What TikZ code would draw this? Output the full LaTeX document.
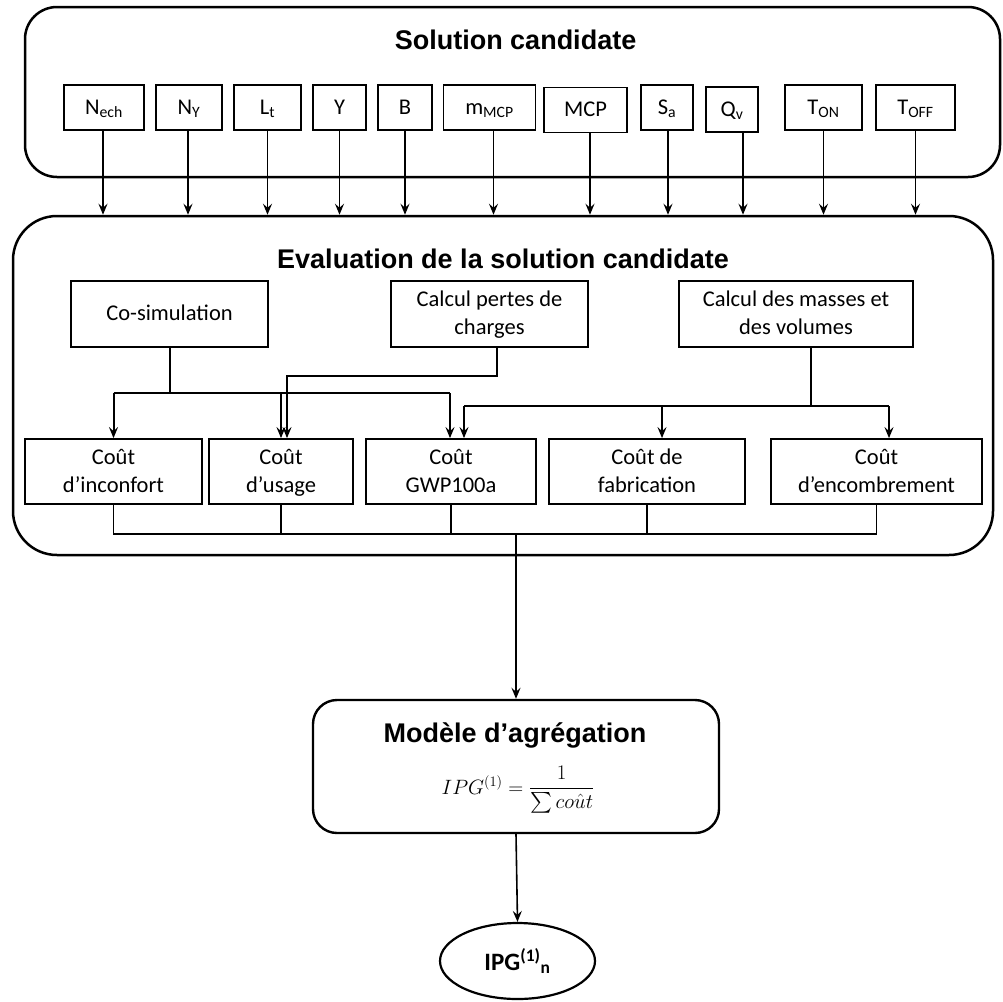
\documentclass[tikz,border=0pt]{standalone}
\usepackage{fontspec}
\usepackage{amsmath}
\setmainfont{Carlito}
\newfontfamily\titlefont{Liberation Sans}
\usetikzlibrary{arrows.meta,shapes.geometric,calc}
\newcommand\mystrut{\rule[-5pt]{0pt}{23pt}}
\tikzset{
  bigbox/.style={draw, line width=2.5pt, inner sep=0pt},
  pbox/.style={draw, line width=1.8pt, inner sep=0pt, minimum height=45pt,
    font=\fontsize{22.5}{27}\selectfont, execute at begin node=\mystrut},
  cbox/.style={draw, line width=1.8pt, inner sep=0pt, align=center,
    font=\fontsize{22.5}{28}\selectfont},
  ttl/.style={anchor=base, font=\titlefont\bfseries\fontsize{27}{32}\selectfont},
  tip/.style={-{Stealth[length=11pt,width=9pt,inset=4pt]}},
  arrtop/.style={tip, line width=1.6pt},
  arrmid/.style={tip, line width=2pt},
  lnmid/.style={line width=2pt},
  lnthin/.style={line width=1.2pt},
  arrbig/.style={tip, line width=2.6pt},
  arrlow/.style={tip, line width=1.6pt},
}
\begin{document}
\begin{tikzpicture}[x=1pt,y=-1pt]
\useasboundingbox (0,0) rectangle (1003,1001);

% Solution candidate box
\node[bigbox, rounded corners=32pt, minimum width=975pt, minimum height=170pt] (sol) at (512.5,92) {};
\node[ttl] (soltitle) at (515.5,49) {Solution candidate};

\node[pbox, minimum width=80pt] (nech) at (104,107.5) {N\textsubscript{ech}};
\node[pbox, minimum width=66pt] (ny) at (189,107.5) {N\textsubscript{Y}};
\node[pbox, minimum width=67pt] (lt) at (267.5,107.5) {L\textsubscript{t}};
\node[pbox, minimum width=53pt] (yy) at (339.5,107.5) {Y};
\node[pbox, minimum width=54pt] (bb) at (405,107.5) {B};
\node[pbox, minimum width=92pt] (mmcp) at (489.5,107.5) {m\textsubscript{MCP}};
\node[pbox, minimum width=83pt] (mcp) at (585.5,110) {MCP};
\node[pbox, minimum width=52pt] (sa) at (667,107.5) {S\textsubscript{a}};
\node[pbox, minimum width=52pt] (qv) at (732,109.5) {Q\textsubscript{v}};
\node[pbox, minimum width=77pt] (ton) at (823.5,107.5) {T\textsubscript{ON}};
\node[pbox, minimum width=79pt] (toff) at (915.5,107.5) {T\textsubscript{OFF}};

% Evaluation box
\node[bigbox, rounded corners=44pt, minimum width=980pt, minimum height=339pt] (eval) at (503,385.5) {};
\node[ttl] (evaltitle) at (503,268) {Evaluation de la solution candidate};

% top arrows
\draw[arrtop] ([xshift=-1pt]nech.south) -- ([xshift=-1pt]nech.south |- eval.north);
\draw[arrtop] ([xshift=-1pt]ny.south) -- ([xshift=-1pt]ny.south |- eval.north);
\draw[arrtop] (lt.south) -- (lt.south |- eval.north);
\draw[arrtop] (yy.south) -- (yy.south |- eval.north);
\draw[arrtop] (bb.south) -- (bb.south |- eval.north);
\draw[arrtop] ([xshift=4pt]mmcp.south) -- ([xshift=4pt]mmcp.south |- eval.north);
\draw[arrtop] ([xshift=4.5pt]mcp.south) -- ([xshift=4.5pt]mcp.south |- eval.north);
\draw[arrtop] ([xshift=1pt]sa.south) -- ([xshift=1pt]sa.south |- eval.north);
\draw[arrtop] ([xshift=11pt]qv.south) -- ([xshift=11pt]qv.south |- eval.north);
\draw[arrtop] (ton.south) -- (ton.south |- eval.north);
\draw[arrtop] (toff.south) -- (toff.south |- eval.north);

% row 1
\node[cbox, minimum width=197pt, minimum height=66pt] (cosim) at (169.5,314) {\mystrut Co-simulation};
\node[cbox, minimum width=197pt, minimum height=66pt] (pertes) at (489.5,314) {\mystrut Calcul pertes de\\\mystrut charges};
\node[cbox, minimum width=234pt, minimum height=66pt] (masses) at (796,314) {\mystrut Calcul des masses et\\\mystrut des volumes};

% row 2
\node[cbox, minimum width=177pt, minimum height=65pt] (inconf) at (113.5,471.5) {\mystrut Coût\\\mystrut d’inconfort};
\node[cbox, minimum width=144pt, minimum height=65pt] (usage) at (281,471.5) {\mystrut Coût\\\mystrut d’usage};
\node[cbox, minimum width=170pt, minimum height=65pt] (gwp) at (451,471.5) {\mystrut Coût\\\mystrut GWP100a};
\node[cbox, minimum width=196pt, minimum height=65pt] (fab) at (647,471.5) {\mystrut Coût de\\\mystrut fabrication};
\node[cbox, minimum width=211pt, minimum height=65pt] (enc) at (876.5,471.5) {\mystrut Coût\\\mystrut d’encombrement};

% co-simulation connectors
\coordinate (cj) at (169.5,393);
\draw[lnmid] (cosim.south) -- (cj);
\draw[lnmid] (inconf.north |- cj) -- ([xshift=-1pt]gwp.north |- cj);
\draw[arrmid] (inconf.north |- cj) -- (inconf.north);
\draw[arrmid] (usage.north |- cj) -- (usage.north);
\draw[arrmid] ([xshift=-1pt]gwp.north |- cj) -- ([xshift=-1pt]gwp.north);

% pertes connectors
\coordinate (pj) at (497,376);
\draw[arrmid] ([xshift=7.5pt]pertes.south) -- (pj) -| ([xshift=6pt]usage.north);

% masses connectors
\coordinate (mj) at (811,406);
\draw[lnmid] ([xshift=15pt]masses.south) -- (mj);
\draw[lnmid] ([xshift=13pt]gwp.north |- mj) -- ([xshift=12.5pt]enc.north |- mj);
\draw[arrmid] ([xshift=13pt]gwp.north |- mj) -- ([xshift=13pt]gwp.north);
\draw[arrmid] ([xshift=15pt]fab.north |- mj) -- ([xshift=15pt]fab.north);
\draw[arrmid] ([xshift=12.5pt]enc.north |- mj) -- ([xshift=12.5pt]enc.north);

% bottom merge
\coordinate (bj) at (516,534);
\draw[lnthin] (inconf.south) -- (inconf.south |- bj) -- (enc.south |- bj) -- (enc.south);
\draw[lnthin] (usage.south) -- (usage.south |- bj);
\draw[lnthin] (gwp.south) -- (gwp.south |- bj);
\draw[lnthin] (fab.south) -- (fab.south |- bj);

% aggregation model
\node[draw, line width=2.4pt, rounded corners=24pt, minimum width=406pt, minimum height=133pt, inner sep=0pt] (model) at (516,766.5) {};
\node[ttl] (modeltitle) at (515,742) {Modèle d’agrégation};
\node[inner sep=0pt] (formula) at (518,790) {\fontsize{22}{26}\selectfont $IPG^{(1)}=\dfrac{1}{\sum co\hat{u}t}$};

\draw[arrbig] (bj) -- (model.north);

% output
\node[draw, ellipse, line width=2.2pt, minimum width=155pt, minimum height=76pt, inner sep=0pt,
  font=\fontsize{25}{30}\selectfont\bfseries] (ipg) at (517.5,961) {IPG\textsuperscript{(1)}\textsubscript{n}};
\draw[arrlow] (model.south) -- (ipg.north);
\end{tikzpicture}
\end{document}
